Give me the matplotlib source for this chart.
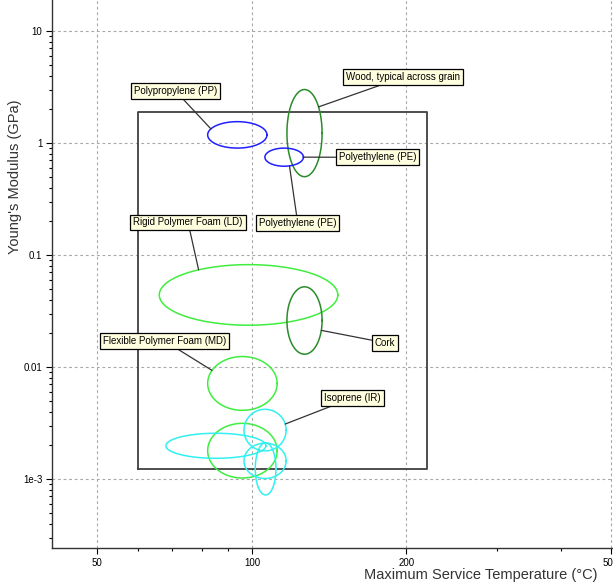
import numpy as np
import matplotlib
matplotlib.use('Agg')
import matplotlib.pyplot as plt

plt.rcParams['font.family'] = ['Liberation Sans', 'DejaVu Sans']

# material bubbles: temperature range (C), modulus range (GPa)
names = ['Polypropylene (PP)', 'Polyethylene (PE)', 'Wood, typical across grain',
         'Rigid Polymer Foam (LD)', 'Cork', 'Flexible Polymer Foam (MD)',
         'Flexible Polymer Foam (VLD)', 'Butyl rubber', 'Isoprene (IR)',
         'Natural rubber', 'Neoprene']
t_min = [82, 106, 117, 66, 117, 82, 82, 68, 96.5, 96.5, 101.5]
t_max = [107, 126, 137, 147, 137, 112, 112, 106.5, 116.6, 116.6, 111.4]
e_min = [0.9, 0.62, 0.5, 0.0236, 0.013, 0.0041, 0.00102, 0.00153, 0.00178, 0.00101, 0.00072]
e_max = [1.55, 0.9, 3.0, 0.082, 0.052, 0.0124, 0.00314, 0.00256, 0.00419, 0.00209, 0.00211]
colors = ['#2020ff', '#2020ff', '#2a8c2a', '#3fee3f', '#2a8c2a', '#3fee3f',
          '#3fee3f', '#33f0f0', '#33f0f0', '#33f0f0', '#33f0f0']

# labelled bubbles: index, label position (C, GPa), anchor angle on ellipse (deg)
label_idx = [0, 2, 1, 1, 3, 5, 4, 8]
label_t = [71.1, 196.8, 175.8, 122.8, 75.1, 67.5, 181.8, 157.1]
label_e = [2.89, 3.86, 0.745, 0.193, 0.195, 0.01714, 0.01644, 0.0053]
label_ang = [153, 37, 0, -74, 124, 151, -17, 17]

# selection box
box_t = [60, 219]
box_e = [0.00123, 1.89]

fig = plt.figure(figsize=(6.13, 5.84), dpi=100)
ax = fig.add_axes([52 / 613, 36 / 584, 1 - 52 / 613, 1 - 36 / 584])
ax.set_xscale('log')
ax.set_yscale('log')
ax.set_xlim(40.8, 505)
ax.set_ylim(2.42e-4, 18.9)

ax.plot([box_t[0], box_t[1], box_t[1], box_t[0], box_t[0]],
        [box_e[0], box_e[0], box_e[1], box_e[1], box_e[0]],
        color='#404040', lw=1.3, zorder=2)


def ellipse(i, ang=None):
    cx = (np.log10(t_min[i]) + np.log10(t_max[i])) / 2
    rx = (np.log10(t_max[i]) - np.log10(t_min[i])) / 2
    cy = (np.log10(e_min[i]) + np.log10(e_max[i])) / 2
    ry = (np.log10(e_max[i]) - np.log10(e_min[i])) / 2
    th = np.linspace(0, 2 * np.pi, 200) if ang is None else np.radians(ang)
    return 10 ** (cx + rx * np.cos(th)), 10 ** (cy + ry * np.sin(th))


order = [6, 3, 5, 4, 2, 0, 1, 7, 8, 9, 10]
for i in order:
    xs, ys = ellipse(i)
    ax.plot(xs, ys, color=colors[i], lw=1.1, zorder=3)

for k, i in enumerate(label_idx):
    ax.annotate(names[i], xy=ellipse(i, label_ang[k]), xytext=(label_t[k], label_e[k]),
                fontsize=7, ha='center', va='center', zorder=5,
                bbox=dict(boxstyle='square,pad=0.3', fc='#ffffe0', ec='black', lw=0.9),
                arrowprops=dict(arrowstyle='-', color='#333333', lw=0.9,
                                shrinkA=0, shrinkB=0))

ax.set_xticks([50, 100, 200, 500])
ax.set_xticklabels(['50', '100', '200', '500'])
ax.set_xticks([60, 70, 80, 90, 300, 400], minor=True)
ax.set_xticklabels([], minor=True)
ax.set_yticks([1e-3, 0.01, 0.1, 1, 10])
ax.set_yticklabels(['1e-3', '0.01', '0.1', '1', '10'])
ax.tick_params(which='major', length=4, width=0.8, labelsize=7, pad=3)
ax.tick_params(which='minor', length=2.5, width=0.8)

ax.grid(True, which='major', ls=(0, (2.5, 2.5)), color='#a8a8a8', lw=0.8)
ax.set_axisbelow(True)
for s in ['top', 'right']:
    ax.spines[s].set_visible(False)
for s in ['left', 'bottom']:
    ax.spines[s].set_color('#333333')
    ax.spines[s].set_linewidth(1.0)

fig.text(598 / 613, 9 / 584, 'Maximum Service Temperature (\u00b0C)', ha='right', va='center',
         fontsize=10.5, color='#333333')
fig.text(15 / 613, 1 - 100 / 584, "Young's Modulus (GPa)", rotation=90, ha='center', va='top',
         fontsize=10.5, color='#333333')

fig.savefig('out.png', dpi=100)
